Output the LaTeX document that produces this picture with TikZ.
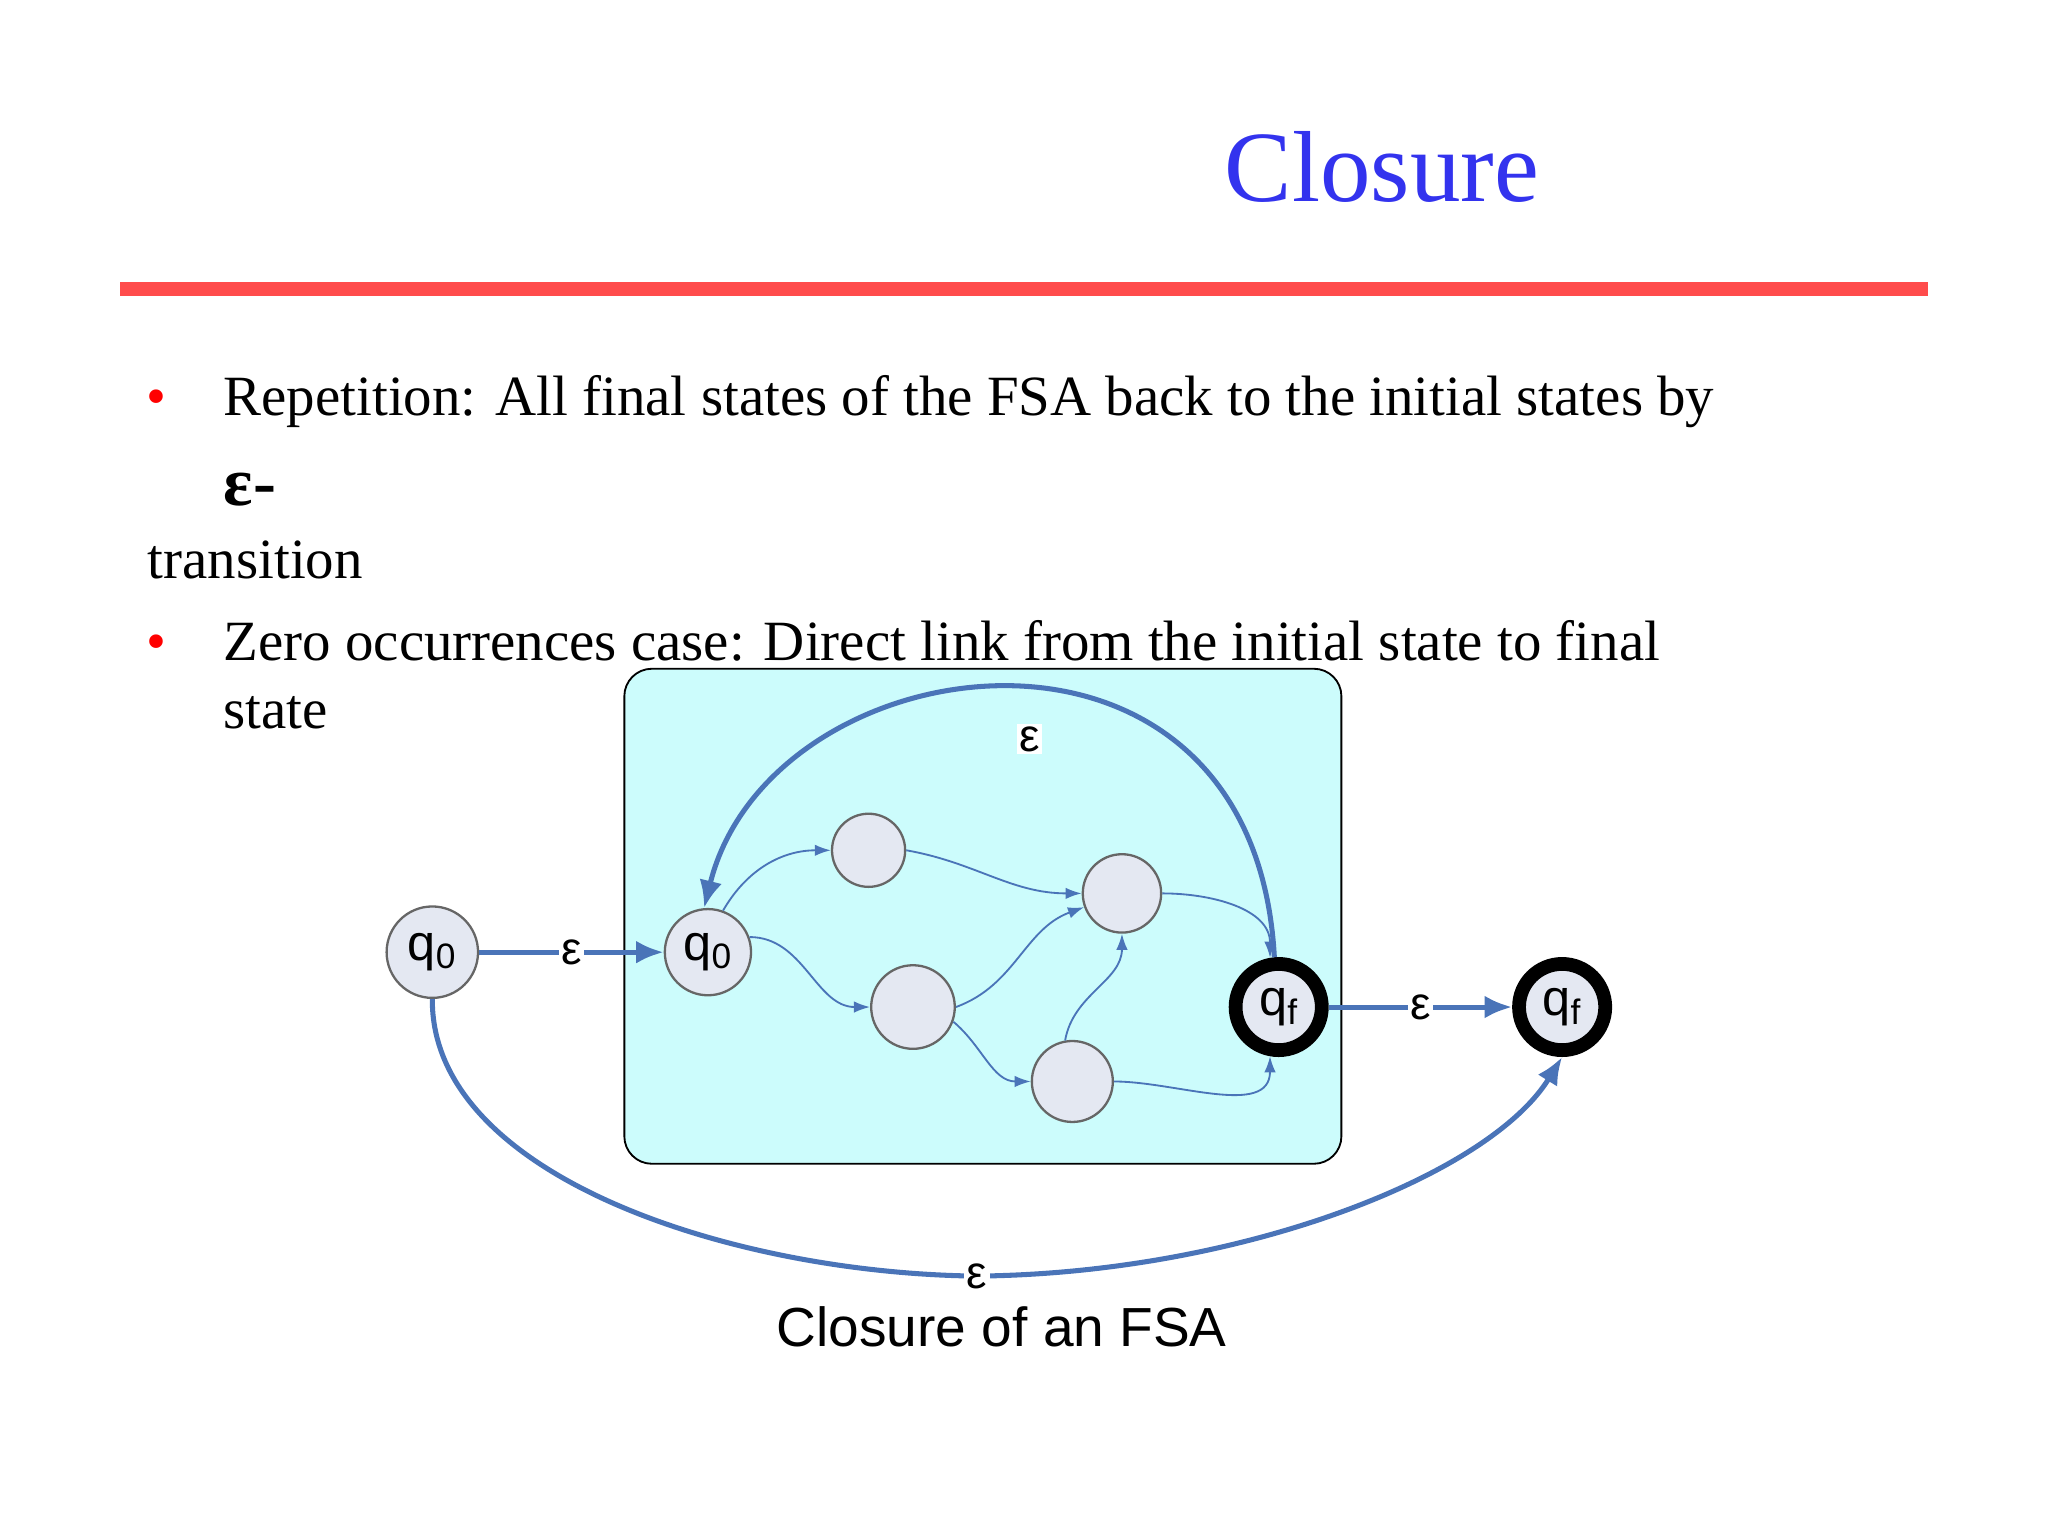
\documentclass[tikz,border=0pt]{standalone}
\usepackage{fontspec}
\setmainfont{Liberation Serif}
\newfontfamily\sans{Liberation Sans}
\usetikzlibrary{arrows.meta}
\definecolor{eb}{HTML}{4A74B8}
\definecolor{nf}{HTML}{E4E8F2}
\definecolor{bx}{HTML}{CCFCFC}
\begin{document}
\begin{tikzpicture}[x=0.02cm,y=-0.02cm,
 st/.style={circle,draw=gray!80!black,fill=nf,line width=1pt,inner sep=0pt,font=\sans\fontsize{22}{22}\selectfont},
 fin/.style={circle,draw=black,fill=nf,line width=6pt,inner sep=0pt,font=\sans\fontsize{22}{22}\selectfont},
 e/.style={draw=eb,line width=0.8pt,-{Latex[length=7pt,width=5pt]}},
 E/.style={draw=eb,line width=2.2pt,-{Latex[length=12pt,width=10pt]}},
 el/.style={fill=white,inner sep=1pt,font=\sans\fontsize{20}{20}\selectfont},
 txt/.style={anchor=base west,font=\fontsize{24.8}{28}\selectfont}]
\useasboundingbox (0,0) rectangle (1568,1176);
\node (title) at (1058,128) {\fontsize{44}{44}\selectfont\color[HTML]{3333EE}Closure};
\draw[line width=6pt,draw=red!70] (92,221) -- (1476,221);
\node[txt,text=red] (b1) at (106,318) {•};
\node[txt] (t1) at (165,318) {Repetition: All final states of the FSA back to the initial states by};
\node[txt] (t2) at (165,387) {\bfseries\fontsize{30}{30}\selectfont ε-};
\node[txt] (t3) at (107,443) {transition};
\node[txt,text=red] (b2) at (106,506) {•};
\node[txt] (t4) at (165,506) {Zero occurrences case: Direct link from the initial state to final};
\node[txt] (t5) at (165,558) {state};
\draw[rounded corners=12pt,fill=bx,draw=black,line width=0.8pt] (478,512) rectangle (1027,891);
\node[st,minimum size=70*0.02cm] (q0) at (331,729) {q\textsubscript{0}};
\node[st,minimum size=66*0.02cm] (q1) at (542,729) {q\textsubscript{0}};
\node[st,minimum size=56*0.02cm] (n1) at (665,651) {};
\node[st,minimum size=64*0.02cm] (n2) at (699,771) {};
\node[st,minimum size=60*0.02cm] (n3) at (859,684) {};
\node[st,minimum size=62*0.02cm] (n4) at (821,828) {};
\node[fin,minimum size=66*0.02cm] (qf) at (979,771) {q\textsubscript{f}};
\node[fin,minimum size=66*0.02cm] (qf2) at (1196,771) {q\textsubscript{f}};
\draw[E] (q0) -- node[el] {ε} (q1);
\draw[E] (qf) -- node[el] {ε} (qf2);
\draw[e] (q1.20) to[out=0,in=180] (n2.180);
\draw[e] (q1.70) to[out=60,in=180] (n1.180);
\draw[e] (n1.0) to[out=-10,in=180] (n3.180);
\draw[e] (n2.0) to[out=20,in=200] (n3.200);
\draw[e] (n2.340) to[out=-40,in=180] (n4.180);
\draw[e] (n4.100) to[out=80,in=-90] (n3.270);
\draw[e] (n3.0) to[out=0,in=90] (qf.100);
\draw[e] (n4.0) to[out=0,in=-90] (qf.260);
\draw[E] (qf.95) .. controls (960,440) and (590,490) .. (q1.95);
\node[el] (eps1) at (788,566) {ε};
\draw[E] (q0.270) .. controls (330,900) and (560,975) .. (748,977) node[el] (eps2) {ε} .. controls (950,975) and (1140,900) .. (qf2.270);
\node (cap) at (767,1016) {\sans\fontsize{24}{24}\selectfont Closure of an FSA};
\end{tikzpicture}
\end{document}
